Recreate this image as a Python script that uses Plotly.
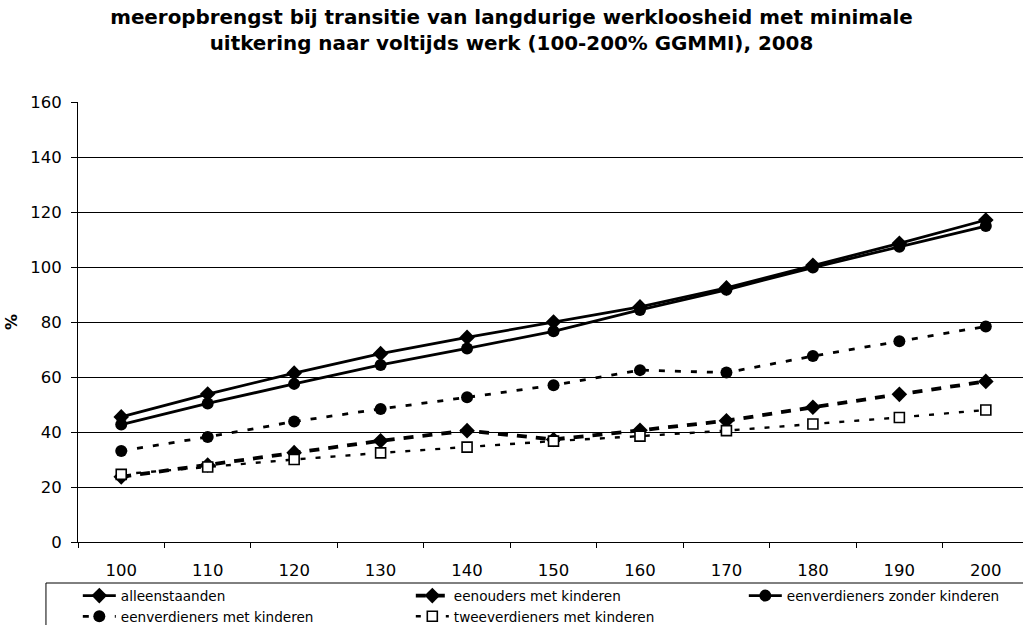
import plotly.graph_objects as go

categories = ["100", "110", "120", "130", "140", "150", "160", "170", "180", "190", "200"]
alleenstaanden = [45.5, 53.8, 61.4, 68.5, 74.4, 80.0, 85.5, 92.4, 100.6, 108.6, 117.1]
eenouders_met_kinderen = [23.7, 28.0, 32.5, 36.8, 40.5, 37.3, 40.6, 44.1, 49.0, 53.7, 58.4]
eenverdieners_zonder_kinderen = [42.7, 50.4, 57.5, 64.4, 70.4, 76.6, 84.4, 91.7, 99.8, 107.4, 114.9]
eenverdieners_met_kinderen = [33.1, 38.2, 43.8, 48.4, 52.6, 57.0, 62.5, 61.6, 67.6, 73.0, 78.4]
tweeverdieners_met_kinderen = [24.6, 27.3, 30.0, 32.4, 34.5, 36.7, 38.5, 40.5, 42.9, 45.3, 48.0]

fig = go.Figure()
fig.add_trace(go.Scatter(x=categories, y=alleenstaanden, name="alleenstaanden", mode="lines+markers",
                         line=dict(color="black", width=2.8),
                         marker=dict(symbol="diamond", size=12, color="black")))
fig.add_trace(go.Scatter(x=categories, y=eenouders_met_kinderen, name="eenouders met kinderen", mode="lines+markers",
                         line=dict(color="black", width=3.8, dash="10px,9px"),
                         marker=dict(symbol="diamond", size=12, color="black")))
fig.add_trace(go.Scatter(x=categories, y=eenverdieners_zonder_kinderen, name="eenverdieners zonder kinderen", mode="lines+markers",
                         line=dict(color="black", width=2.8),
                         marker=dict(symbol="circle", size=12, color="black")))
fig.add_trace(go.Scatter(x=categories, y=eenverdieners_met_kinderen, name="eenverdieners met kinderen", mode="lines+markers",
                         line=dict(color="black", width=2.8, dash="6px,10px"),
                         marker=dict(symbol="circle", size=12, color="black")))
fig.add_trace(go.Scatter(x=categories, y=tweeverdieners_met_kinderen, name="tweeverdieners met kinderen", mode="lines+markers",
                         line=dict(color="black", width=2.4, dash="5px,10px"),
                         marker=dict(symbol="square", size=10, color="white", line=dict(color="black", width=1.6))))

fig.update_layout(
    width=1023, height=625,
    paper_bgcolor="white", plot_bgcolor="white",
    margin=dict(l=78, r=0, t=102, b=83, autoexpand=False),
    font=dict(family="DejaVu Sans", size=16, color="black"),
    title=dict(text="<b>meeropbrengst bij transitie van langdurige werkloosheid met minimale<br>uitkering naar voltijds werk (100-200% GGMMI), 2008</b>",
               x=0.5, xanchor="center", xref="container", y=0.962, yanchor="top", yref="container",
               font=dict(size=19.9)),
    showlegend=True,
    legend=dict(orientation="h", x=-0.0002, xanchor="left", y=-0.087, yanchor="top",
                borderwidth=0, font=dict(size=13.6), bgcolor="rgba(0,0,0,0)",
                entrywidth=285, entrywidthmode="pixels", tracegroupgap=0, itemwidth=33),
    shapes=[dict(type="rect", xref="paper", yref="paper", x0=-0.0339, x1=1.05, y0=-0.0932, y1=-0.25,
                 line=dict(color="black", width=1), fillcolor="rgba(0,0,0,0)", layer="above")],
    xaxis=dict(type="category", range=[-0.5, 10.43], tickson="boundaries", ticks="outside", ticklen=5,
               tickcolor="black", showline=True, linecolor="black", linewidth=1, showgrid=False,
               ticklabelstandoff=13, tickfont=dict(size=16.5)),
    yaxis=dict(range=[0, 160], dtick=20, ticks="outside", ticklen=6, tickcolor="black",
               showline=True, linecolor="black", linewidth=1, showgrid=True, gridcolor="black", gridwidth=1,
               zeroline=False, tickfont=dict(size=16.5), ticklabelstandoff=6,
               title=dict(text="<b>%</b>", standoff=8, font=dict(size=16))),
)

fig.write_html("out.html", config={"displayModeBar": False},
               post_script="document.body.style.margin='0';")
